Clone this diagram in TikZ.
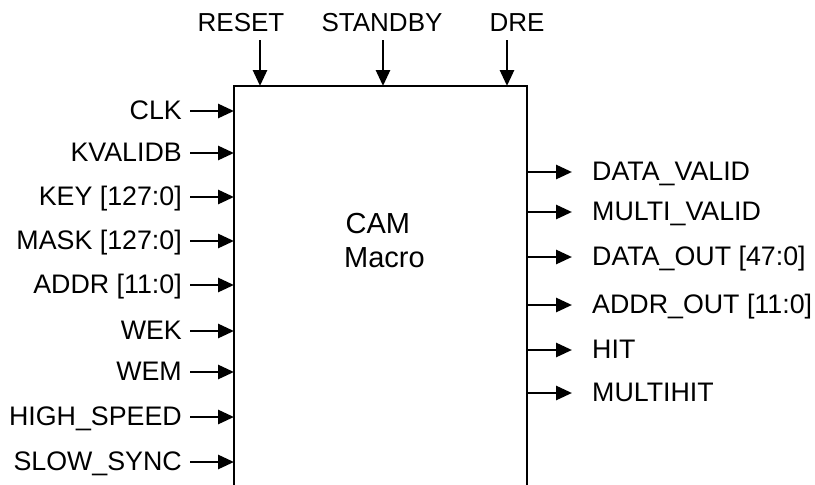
\documentclass[tikz,border=0pt]{standalone}
\usepackage{fontspec}
\setmainfont{Liberation Sans}
\usetikzlibrary{arrows.meta}
\begin{document}
\begin{tikzpicture}[x=1pt,y=-1pt,
  sig/.style={line width=2.8pt,-{Triangle[length=16pt,width=14pt]}},
  toplbl/.style={inner sep=0pt,font=\fontsize{26}{30}\selectfont},
  lbl/.style={inner sep=0pt,font=\fontsize{26.8}{31}\selectfont},
  big/.style={inner sep=0pt,font=\fontsize{29}{34}\selectfont},
  boxline/.style={line width=2pt}]
\useasboundingbox (0,0) rectangle (815,485);
\node[anchor=north west, minimum width=293pt, minimum height=404pt, inner sep=0pt] (cam) at (234,86) {};
\draw[boxline] (cam.south west) -- (cam.north west) -- (cam.north east) -- (cam.south east);
\node[big, anchor=base west] (camt) at (345.5,233) {CAM};
\node[big, anchor=base west] (macro) at (344,267) {Macro};
% top inputs
\foreach \n/\t/\x/\lx in {reset/RESET/260/241, standby/STANDBY/383/382, dre/DRE/507/517}{
  \coordinate (top\n) at (\x,40);
  \node[toplbl, anchor=base] (lt\n) at (\lx,31) {\t};
  \draw[sig] (top\n) -- (top\n |- cam.north);
}
% left inputs
\foreach \n/\t/\y in {clk/CLK/111, kvalidb/KVALIDB/153, key/{KEY [127:0]}/197, mask/{MASK [127:0]}/241, addr/{ADDR [11:0]}/285, wek/WEK/331, wem/WEM/372, hs/{HIGH\_SPEED}/417, ss/{SLOW\_SYNC}/462}{
  \coordinate (in\n) at (190,\y);
  \node[lbl, anchor=base east] (l\n) at (182,\y+8.8) {\t};
  \draw[sig] (in\n) -- (in\n -| cam.west);
}
% right outputs
\foreach \n/\t/\y in {dv/{DATA\_VALID}/172, mv/{MULTI\_VALID}/212, do/{DATA\_OUT [47:0]}/257, ao/{ADDR\_OUT [11:0]}/305, hit/HIT/350, mh/MULTIHIT/393}{
  \coordinate (out\n) at (572,\y);
  \node[lbl, anchor=base west] (r\n) at (592,\y+8.8) {\t};
  \draw[sig] (out\n -| cam.east) -- (out\n);
}
\end{tikzpicture}
\end{document}
